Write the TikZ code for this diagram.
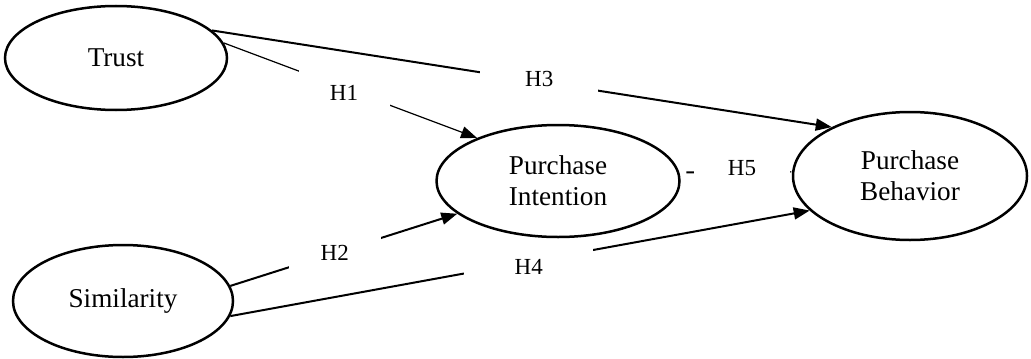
\documentclass[tikz,border=0pt]{standalone}
\usepackage{fontspec}
\setmainfont{Liberation Serif}
\usetikzlibrary{shapes.geometric,arrows.meta}

\begin{document}
\begin{tikzpicture}[x=0.5pt,y=-0.5pt,
	construct/.style={ellipse,draw,line width=1.25pt,inner sep=0pt,align=center,font=\fontsize{13.6}{15.5}\selectfont},
	hyp/.style={line width=1pt,-{Triangle[length=8pt,width=6pt]}},
	hlabel/.style={fill=white,inner sep=0pt,font=\fontsize{11.5}{13}\selectfont}]
	\useasboundingbox (0,0) rectangle (1031,358); % keeps the margins
	
		% the four constructs
		\node[construct,minimum width=111pt,minimum height=52pt] (Trust) at (116,58) {Trust};
		\node[construct,minimum width=110pt,minimum height=56pt] (Similarity) at (123,301) {Similarity};
		\node[construct,minimum width=121.5pt,minimum height=56pt] (Intention) at (558,181) {Purchase\\Intention};
		\node[construct,minimum width=117pt,minimum height=64pt] (Behavior) at (910,176) {Purchase\\Behavior};
		
		% hypotheses, the labels cut the lines
		\draw[hyp,line width=0.6pt] (Trust.8) -- node[hlabel,pos=0.475,yshift=-2.5pt,minimum width=45.5pt,minimum height=24pt] (LabH1) {H1} (Intention.152);
		\draw[hyp] (Similarity.8.5) -- node[hlabel,pos=0.46,minimum width=46pt,minimum height=17pt] (LabH2) {H2} (Intention.198.6);
		\draw[hyp] (Trust.16) -- node[hlabel,pos=0.528,yshift=1pt,minimum width=59pt,minimum height=14pt] (LabH3) {H3} (Behavior.148);
		\draw[hyp] (Similarity.352) -- node[hlabel,pos=0.515,yshift=-2.5pt,minimum width=64.5pt,minimum height=20pt] (LabH4) {H4} (Behavior.199);
		\draw[hyp,shorten <=3.5pt] (Intention.4) -- node[hlabel,pos=0.556,yshift=2pt,minimum width=48pt,minimum height=15pt] (LabH5) {H5} (Behavior.178);
	\end{tikzpicture}
\end{document}
